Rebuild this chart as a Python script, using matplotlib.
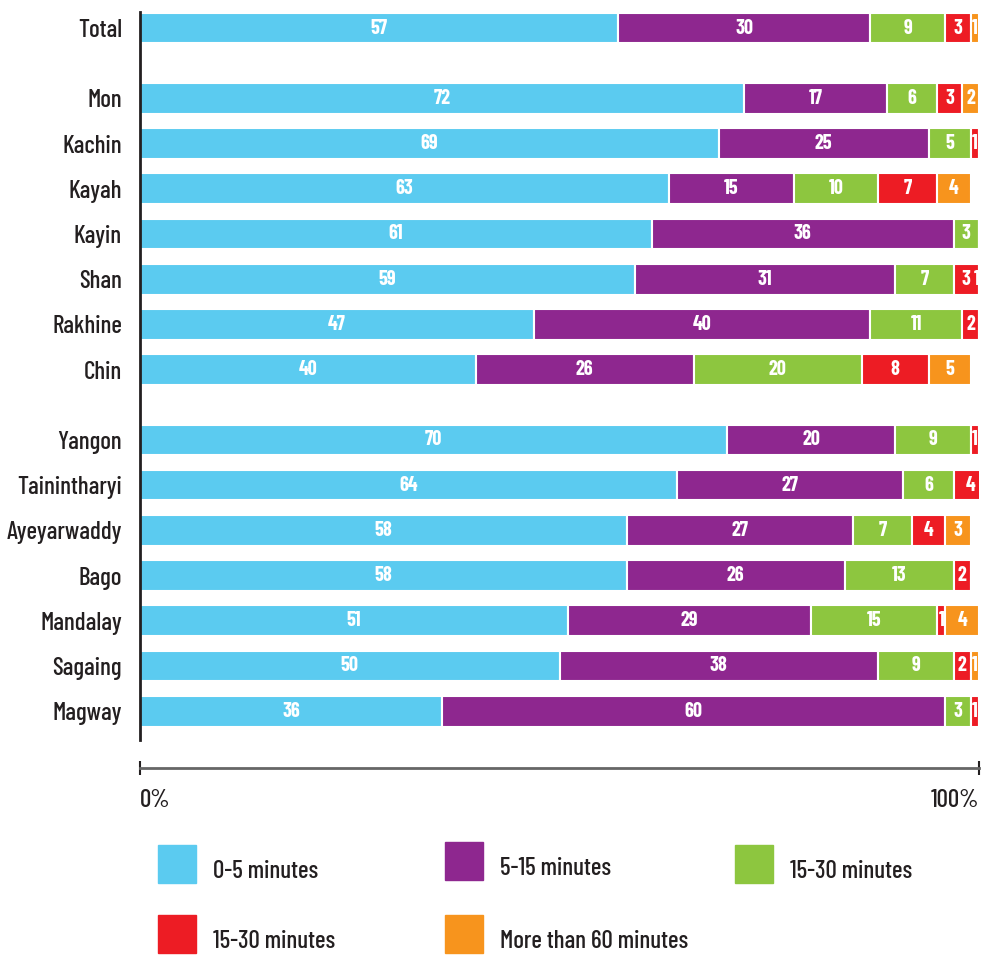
import numpy as np
import matplotlib
matplotlib.use("Agg")
import matplotlib.pyplot as plt
from matplotlib.patches import Rectangle

plt.rcParams['font.family'] = ['Barlow Condensed', 'Roboto Condensed', 'Asap Condensed', 'DejaVu Sans']

# --- data ---
regions = ["Total",
           "Mon", "Kachin", "Kayah", "Kayin", "Shan", "Rakhine", "Chin",
           "Yangon", "Tainintharyi", "Ayeyarwaddy", "Bago", "Mandalay", "Sagaing", "Magway"]
groups = [1, 7, 7]  # rows per block, blocks separated by a gap

min_0_5 = [57, 72, 69, 63, 61, 59, 47, 40, 70, 64, 58, 58, 51, 50, 36]
min_5_15 = [30, 17, 25, 15, 36, 31, 40, 26, 20, 27, 27, 26, 29, 38, 60]
min_15_30 = [9, 6, 5, 10, 3, 7, 11, 20, 9, 6, 7, 13, 15, 9, 3]
min_30_60 = [3, 3, 1, 7, 0, 3, 2, 8, 1, 4, 4, 2, 1, 2, 1]
min_60_plus = [1, 2, 0, 4, 0, 1, 0, 5, 0, 0, 3, 0, 4, 1, 0]

series = [min_0_5, min_5_15, min_15_30, min_30_60, min_60_plus]
legend_labels = ["0-5 minutes", "5-15 minutes", "15-30 minutes",
                 "15-30 minutes", "More than 60 minutes"]
colors = ["#5BCBF0", "#8E278F", "#8DC63F", "#ED1C24", "#F7941D"]
ink = "#231F20"

# row positions with extra space between blocks
gap = 1.556
ypos = []
y = 0.0
for n in groups:
    for k in range(n):
        ypos.append(y)
        y += 1
    y += gap - 1
ypos = np.array(ypos)

# --- figure ---
W, H = 981, 955
fig = plt.figure(figsize=(W / 100, H / 100), dpi=100)
ax = fig.add_axes([140 / W, 1 - 740 / H, (979 - 140) / W, (740 - 12) / H])

left = np.zeros(len(regions))
for vals, col in zip(series, colors):
    vals = np.array(vals, dtype=float)
    ax.barh(ypos, vals, left=left, height=0.68, color=col,
            edgecolor="white", linewidth=1.5, zorder=2)
    for yy, l, v in zip(ypos, left, vals):
        if v > 0:
            # rounded shares can add up past 100%, keep the label in view
            xc = min(l + v / 2, 99.7)
            ax.text(xc, yy, f"{int(v)}", ha="center", va="center",
                    color="white", fontsize=14.5, fontweight="bold", zorder=3)
    left += vals

ax.set_xlim(0, 100)
ax.set_ylim(15.75, -0.354)
ax.set_yticks(ypos)
ax.set_yticklabels(regions, fontsize=18, color=ink, fontweight="medium")
ax.tick_params(axis="y", length=0, pad=13)

for s in ["top", "right"]:
    ax.spines[s].set_visible(False)
ax.spines["left"].set_linewidth(2)
ax.spines["left"].set_color(ink)
ax.spines["bottom"].set_position(("outward", 20))
ax.spines["bottom"].set_color("#666666")
ax.spines["bottom"].set_linewidth(2)
ax.set_xticks([0, 100])
ax.set_xticklabels(["0%", "100%"], fontsize=18, color=ink, fontweight="medium")
ax.tick_params(axis="x", direction="inout", length=10, width=1.5,
               color=ink, pad=10)
ax.get_xticklabels()[0].set_ha("left")
ax.get_xticklabels()[1].set_ha("right")

# --- legend drawn in figure pixels ---
leg = fig.add_axes([0, 0, 1, 1])
leg.set_xlim(0, W)
leg.set_ylim(H, 0)
leg.axis("off")
box_x = [158, 445, 735, 158, 445]
box_y = [845, 842, 845, 915, 915]
text_x = [213, 500, 790, 213, 500]
for i, lab in enumerate(legend_labels):
    leg.add_patch(Rectangle((box_x[i], box_y[i]), 38, 38, color=colors[i]))
    leg.text(text_x[i], box_y[i] + 26, lab, fontsize=18, color=ink,
             va="center", ha="left", fontweight="medium")

fig.savefig("out.png", dpi=100)
